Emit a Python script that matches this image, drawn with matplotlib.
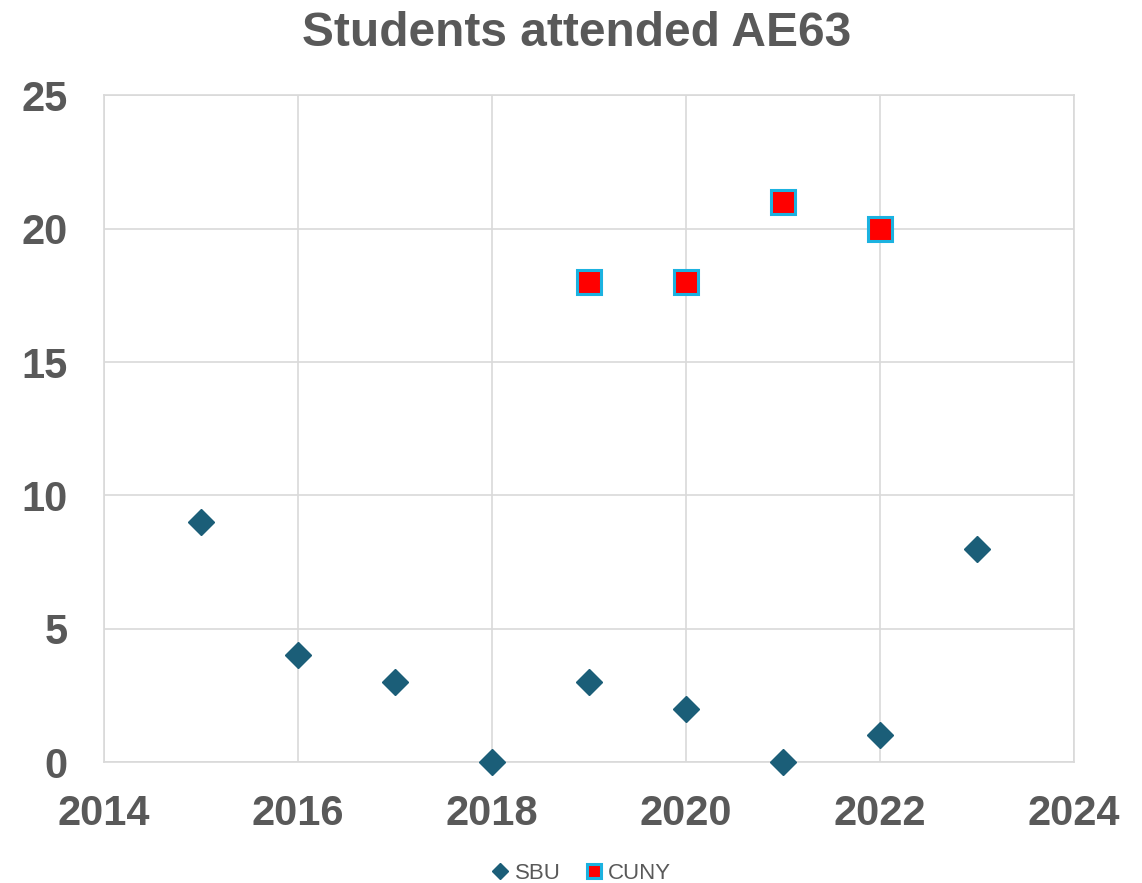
import matplotlib.pyplot as plt

sbu_years = [2015, 2016, 2017, 2018, 2019, 2020, 2021, 2022, 2023]
sbu_counts = [9, 4, 3, 0, 3, 2, 0, 1, 8]
cuny_years = [2019, 2020, 2021, 2022]
cuny_counts = [18, 18, 21, 20]

plt.rcParams['font.family'] = ['Liberation Sans', 'DejaVu Sans']
gray = '#595959'

fig = plt.figure(figsize=(11.42, 8.83), dpi=100)
ax = fig.add_axes([0.0911, 0.137, 0.8494, 0.755])

ax.plot(sbu_years, sbu_counts, linestyle='none', marker='D', markersize=13,
        color='#1b5e78', label='SBU', clip_on=False, zorder=3)
ax.plot(cuny_years, cuny_counts, linestyle='none', marker='s', markersize=17,
        markerfacecolor='#ff0000', markeredgecolor='#1cb2e0', markeredgewidth=2.2,
        label='CUNY', clip_on=False, zorder=3)

ax.set_xlim(2014, 2024)
ax.set_ylim(0, 25)
ax.set_xticks(range(2014, 2025, 2))
ax.set_yticks(range(0, 26, 5))
ax.grid(True, color='#d9d9d9', linewidth=1.2)
ax.set_axisbelow(True)
for s in ax.spines.values():
    s.set_color('#d9d9d9')
    s.set_linewidth(1.2)
ax.tick_params(length=0, labelsize=30, labelcolor=gray)
ax.tick_params(axis='x', pad=23)
ax.tick_params(axis='y', pad=26)
for lbl in ax.get_xticklabels() + ax.get_yticklabels():
    lbl.set_fontweight('bold')

fig.suptitle('Students attended AE63', fontsize=34.5, fontweight='bold', color=gray,
             x=0.505, y=0.988)

leg = fig.legend(loc='lower center', bbox_to_anchor=(0.508, -0.024), ncol=2, frameon=False,
                 fontsize=16, handletextpad=0.15, columnspacing=1.0, handlelength=1.0,
                 markerscale=0.6)
for t in leg.get_texts():
    t.set_color(gray)

fig.savefig('out.png', dpi=100)
